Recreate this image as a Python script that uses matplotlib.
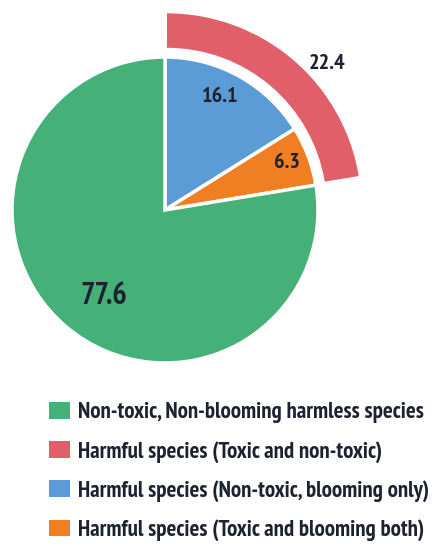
import matplotlib
matplotlib.use('Agg')
import matplotlib.pyplot as plt
from matplotlib.patches import Patch

# Dados do gráfico
rotulos = ['Non-toxic, Non-blooming harmless species',
           'Harmful species (Toxic and non-toxic)',
           'Harmful species (Non-toxic, blooming only)',
           'Harmful species (Toxic and blooming both)']
valorVerde = 77.6
valorVermelho = 22.4
valorAzul = 16.1
valorLaranja = 6.3

cores = ['#45b077', '#e05f69', '#5b9bd6', '#ef7f22']
fonte = ['PT Sans Narrow', 'DejaVu Sans']
corTexto = '#1c2230'

fig = plt.figure(figsize=(4.35, 5.45), dpi=100)
ax = fig.add_axes([0, 0, 1, 1])

# Pizza interna: azul, laranja e verde no sentido horário a partir do topo
ax.pie([valorAzul, valorLaranja, valorVerde], colors=[cores[2], cores[3], cores[0]],
       startangle=90, counterclock=False, radius=1.0,
       wedgeprops=dict(edgecolor='white', linewidth=2.5))

# Anel externo vermelho com a soma das espécies nocivas
ax.pie([valorVermelho, valorVerde], colors=[cores[1], 'none'],
       startangle=90, counterclock=False, radius=1.27, explode=[0.02, 0],
       wedgeprops=dict(width=0.225, edgecolor='none'))

# Rótulos dos valores
ax.text(-0.40, -0.56, f'{valorVerde}', fontsize=22, fontweight='bold', family=fonte,
        color=corTexto, ha='center', va='center')
ax.text(0.36, 0.74, f'{valorAzul}', fontsize=16, fontweight='bold', family=fonte,
        color=corTexto, ha='center', va='center')
ax.text(0.80, 0.31, f'{valorLaranja}', fontsize=16, fontweight='bold', family=fonte,
        color=corTexto, ha='center', va='center')
ax.text(1.06, 0.96, f'{valorVermelho}', fontsize=16, fontweight='bold', family=fonte,
        color=corTexto, ha='center', va='center')

ax.set_xlim(-165 / 153, 270 / 153)
ax.set_ylim(-335 / 153, 210 / 153)
ax.set_aspect('auto')
ax.axis('off')

# Legenda
marcadores = [Patch(facecolor=c, edgecolor='none') for c in cores]
fig.legend(marcadores, rotulos, loc='upper left', bbox_to_anchor=(49 / 435, 1 - 402 / 545),
           frameon=False, handlelength=0.93, handleheight=0.76, handletextpad=0.35,
           labelspacing=0.76, borderaxespad=0, borderpad=0,
           prop=dict(family=fonte, weight='bold', size=16.5), labelcolor=corTexto)

plt.savefig('out.png', dpi=100)
